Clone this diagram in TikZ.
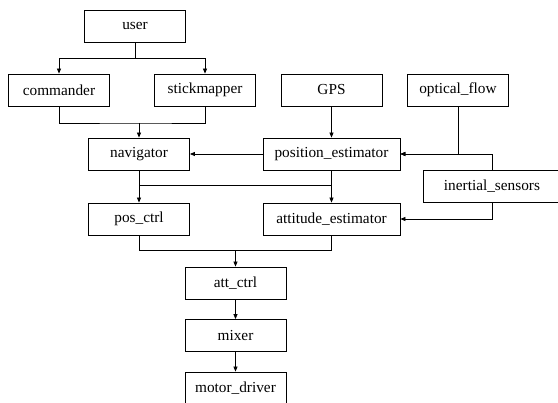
\documentclass[tikz,border=0pt]{standalone}
\usepackage{fontspec}
\setmainfont{Liberation Serif}
\usetikzlibrary{arrows.meta,calc}

\begin{document}
\begin{tikzpicture}[x=1pt,y=-1pt,
  block/.style={draw,line width=0.8pt,minimum width=101pt,minimum height=32pt,inner sep=2pt,
    font=\fontsize{15.3}{18}\selectfont},
  wide/.style={block,minimum width=137pt},
  link/.style={line width=0.8pt},
  feed/.style={link,-{Triangle[length=5pt,width=4pt]}}]
  \useasboundingbox (0,0) rectangle (558,403);
  % inputs
  \node[block] (user) at (135,26) {user};
  \node[block] (commander) at (59,90) {commander};
  \node[block] (stickmapper) at (205,90) {stickmapper};
  \node[block] (gps) at (331.5,90) {GPS};
  \node[block] (optflow) at (458,90) {optical\_flow};
  % estimation and navigation
  \node[block] (navigator) at (139,154) {navigator};
  \node[wide] (posest) at (331.5,154) {position\_estimator};
  \node[wide] (inertial) at (492,186) {inertial\_sensors};
  \node[block] (posctrl) at (139,219) {pos\_ctrl};
  \node[wide] (attest) at (331.5,219) {attitude\_estimator};
  % control chain
  \node[block] (attctrl) at (235.5,283) {att\_ctrl};
  \node[block] (mixer) at (235.5,335.5) {mixer};
  \node[block] (motor) at (235.5,388) {motor\_driver};
  % user split
  \coordinate (usplit) at (135,58);
  \draw[link] (user.south) -- (usplit);
  \draw[feed] (usplit) -| (commander.north);
  \draw[feed] (usplit) -| (stickmapper.north);
  % merge into navigator
  \coordinate (navin) at (139,123);
  \draw[link] (commander.south) |- (navin) -| (stickmapper.south);
  \draw[feed] (navin) -- (navigator.north);
  \draw[feed] (gps) -- (posest);
  \draw[feed] (posest) -- (navigator);
  \draw[feed] (optflow.south) |- (posest.east);
  \draw[feed] (inertial.north) |- (posest.east);
  \draw[feed] (inertial.south) |- (attest.east);
  % bus to controllers
  \coordinate (navbus) at (139,185);
  \coordinate (posbus) at (331.5,185);
  \draw[link] (navigator.south) -- (navbus) -- (posbus) -- (posest.south);
  \draw[feed] (navbus) -- (posctrl.north);
  \draw[feed] (posbus) -- (attest.north);
  % merge into att_ctrl
  \coordinate (ctrlin) at (235.5,250.5);
  \draw[link] (posctrl.south) |- (ctrlin) -| (attest.south);
  \draw[feed] (ctrlin) -- (attctrl.north);
  \draw[feed] (attctrl) -- (mixer);
  \draw[feed] (mixer) -- (motor);
\end{tikzpicture}
\end{document}
